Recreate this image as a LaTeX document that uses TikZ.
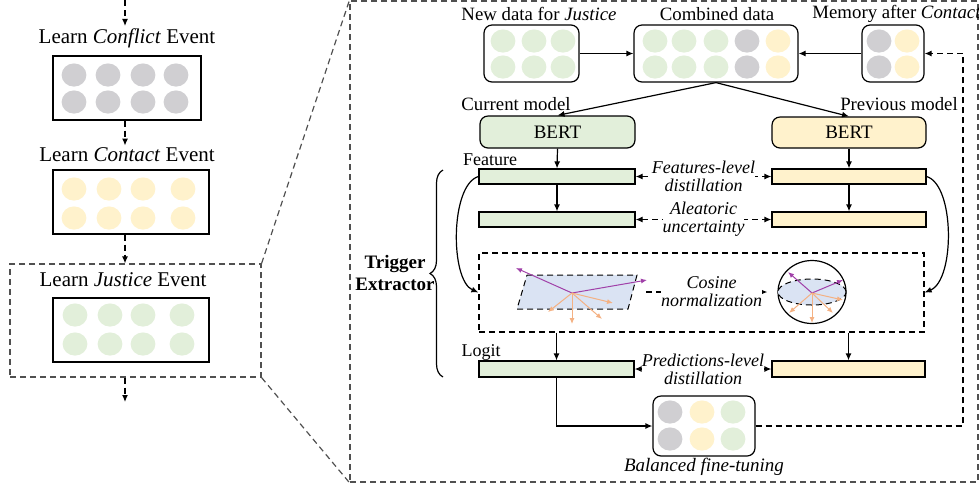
\documentclass[tikz,border=0pt]{standalone}
\usepackage{fontspec}
\setmainfont{Liberation Serif}
\usepackage{tikz}
\usetikzlibrary{arrows.meta, shapes.geometric, decorations.pathreplacing}

\definecolor{gris}{RGB}{208,207,210}
\definecolor{amarillo}{RGB}{255,242,204}
\definecolor{verde}{RGB}{226,239,218}
\definecolor{azul}{RGB}{218,227,243}
\definecolor{morado}{RGB}{160,64,168}
\definecolor{naranja}{RGB}{244,177,131}
\definecolor{marcogris}{RGB}{80,80,80}

\begin{document}
\begin{tikzpicture}[x=0.5pt, y=-0.5pt,
    >={Latex[length=3.5pt, width=3pt]},
    caja/.style={draw, line width=0.6pt, inner sep=0pt},
    redondo/.style={caja, rounded corners=4pt},
    barra/.style={caja, minimum height=7.5pt},
    marco/.style={draw=marcogris, line width=0.6pt, dash pattern=on 3pt off 2pt},
    marcon/.style={draw=black, line width=0.6pt, dash pattern=on 3pt off 2pt},
    flecha/.style={->, line width=0.6pt},
    flechad/.style={->, line width=0.6pt, dash pattern=on 3pt off 2pt},
    vec/.style={-{Latex[length=3pt, width=2.5pt]}, line width=0.5pt},
    paso/.style={font=\fontsize{10.5}{12}\selectfont, inner sep=1pt},
    texto/.style={font=\fontsize{9.4}{11}\selectfont, inner sep=1pt},
    chico/.style={font=\fontsize{9}{10}\selectfont, inner sep=1pt},
    nota/.style={font=\fontsize{9}{9}\selectfont\itshape, align=center, fill=white, inner sep=0pt}]
    \useasboundingbox (0,0) rectangle (979,484);

    % Secuencia de eventos
    \coordinate (ini) at (125,0);
    \coordinate (fin) at (125,402);
    \node[paso] (tconf) at (127,38) {Learn \textit{Conflict} Event};
    \node[caja, minimum width=74pt, minimum height=32pt] (conf) at (127,88) {};
    \foreach \x in {74,108,143,176}
        \foreach \y in {75,102}
            \fill[gris] (\x,\y) ellipse (6.2pt and 5.8pt);
    \node[paso] (tcont) at (127,155) {Learn \textit{Contact} Event};
    \node[caja, minimum width=78pt, minimum height=32pt] (cont) at (131,202) {};
    \foreach \x in {74,109,143,183}
        \foreach \y in {189,218}
            \fill[amarillo] (\x,\y) ellipse (6.2pt and 5.8pt);
    \node[marco, minimum width=125.5pt, minimum height=56.5pt] (justicia) at (135.5,320.5) {};
    \node[paso] (tjust) at (123,280) {Learn \textit{Justice} Event};
    \node[caja, minimum width=78pt, minimum height=32pt] (just) at (131,330) {};
    \foreach \x in {75,110,143,182}
        \foreach \y in {315,344}
            \fill[verde] (\x,\y) ellipse (6.2pt and 5.8pt);

    \draw[flechad] (ini) -- (tconf.north -| ini);
    \draw[flechad] (conf.south -| ini) -- (tcont.north -| ini);
    \draw[flechad] (cont.south -| ini) -- (justicia.north -| ini);
    \draw[flechad] (justicia.south -| ini) -- (fin);

    % Detalle
    \node[marco, minimum width=314pt, minimum height=240.5pt] (detalle) at (664,241.5) {};
    \draw[marco] (justicia.north east) -- (detalle.north west);
    \draw[marco] (justicia.south east) -- (detalle.south west);

    % Datos
    \node[texto] (tnuevo) at (539,14) {New data for \textit{Justice}};
    \node[redondo, minimum width=47.5pt, minimum height=28.5pt] (nuevo) at (531.5,53.5) {};
    \foreach \x in {503,534,563}
        \foreach \y in {41,67}
            \fill[verde] (\x,\y) ellipse (6.2pt and 5.8pt);
    \node[texto] (tcomb) at (717,14) {Combined data};
    \node[redondo, minimum width=82pt, minimum height=28.5pt] (comb) at (716,53.5) {};
    \foreach \x/\c in {655/verde,684/verde,716/verde,747/gris,778/amarillo}
        \foreach \y in {41,67}
            \fill[\c] (\x,\y) ellipse (6.2pt and 5.8pt);
    \node[texto, anchor=west] (tmem) at (810,14) {Memory after \textit{Contact}};
    \node[redondo, minimum width=31pt, minimum height=28.5pt] (mem) at (893,53.5) {};
    \foreach \x/\c in {879/gris,907/amarillo}
        \foreach \y in {41,67}
            \fill[\c] (\x,\y) ellipse (6.2pt and 5.8pt);
    \draw[flecha] (nuevo) -- (comb);
    \draw[flecha] (mem) -- (comb);

    % Modelos
    \node[texto] (tactual) at (516,104) {Current model};
    \node[redondo, fill=verde, minimum width=77.5pt, minimum height=16pt, font=\fontsize{9.5}{11}\selectfont] (bertA) at (557.5,132) {BERT};
    \node[texto] (tprevio) at (899,104) {Previous model};
    \node[redondo, fill=amarillo, minimum width=77pt, minimum height=15.5pt, font=\fontsize{9.5}{11}\selectfont] (bertB) at (849,132.5) {BERT};
    \draw[flecha] (comb.south) -- (bertA.north);
    \draw[flecha] (comb.south) -- (bertB.north);

    % Rasgos
    \node[chico] (tfeat) at (490,160) {Feature};
    \node[barra, fill=verde, minimum width=78pt] (featA) at (557,176.5) {};
    \node[barra, fill=verde, minimum width=78pt] (aleA) at (557,219.5) {};
    \node[barra, fill=amarillo, minimum width=77pt] (featB) at (849,176.5) {};
    \node[barra, fill=amarillo, minimum width=77pt] (aleB) at (849,219.5) {};
    \draw[flecha] (bertA.south) -- (featA.north);
    \draw[flecha] (featA.south) -- (aleA.north);
    \draw[flecha] (bertB.south) -- (featB.north);
    \draw[flecha] (featB.south) -- (aleB.north);
    \draw[flechad, <->] (featA.east) -- (featB.west) node[nota, midway] {Features-level\\distillation};
    \draw[flechad, <->] (aleA.east) -- (aleB.west) node[nota, midway] {Aleatoric\\uncertainty};

    % Normalizacion coseno
    \node[marcon, minimum width=222.5pt, minimum height=39.5pt] (coseno) at (701.5,292.5) {};
    \draw[dash pattern=on 3pt off 2pt, line width=0.5pt, fill=azul] (527,275) -- (637,275) -- (628,309) -- (517,309) -- cycle;
    \foreach \x/\y in {516/268,647/280}
        \draw[vec, morado] (572,293) -- (\x,\y);
    \foreach \x/\y in {548/312,572/324,602/319,613/303}
        \draw[vec, naranja] (572,293) -- (\x,\y);
    \node[draw, ellipse, line width=0.6pt, minimum width=34pt, minimum height=31.5pt, inner sep=0pt] (esfera) at (812,292) {};
    \draw[dash pattern=on 3pt off 2pt, line width=0.5pt, fill=azul] (812,292) ellipse (17pt and 6.5pt);
    \foreach \x/\y in {788/272,843/280}
        \draw[vec, morado] (812,293) -- (\x,\y);
    \foreach \x/\y in {789/313,812/323,833/313,843/300}
        \draw[vec, naranja] (812,293) -- (\x,\y);
    \coordinate (plano) at (646,292);
    \draw[flechad, shorten >=5pt] (plano) -- (esfera.west) node[nota, midway] {Cosine\\normalization};
    \draw[flecha] (featA.west) .. controls (450,185) and (450,280) .. (coseno.west);
    \draw[flecha] (featB.east) .. controls (955,185) and (955,280) .. (coseno.east);

    % Logits
    \node[chico] (tlogit) at (481,352) {Logit};
    \node[barra, fill=verde, minimum width=77.5pt, minimum height=8pt] (logitA) at (556.5,369) {};
    \node[barra, fill=amarillo, minimum width=76.5pt, minimum height=8pt] (logitB) at (848.5,369) {};
    \draw[flecha] (coseno.south -| logitA) -- (logitA.north);
    \draw[flecha] (coseno.south -| logitB) -- (logitB.north);
    \draw[flechad, <->] (logitA.east) -- (logitB.west) node[nota, midway] {Predictions-level\\distillation};

    % Ajuste balanceado
    \node[redondo, minimum width=51pt, minimum height=30pt] (bal) at (704,426) {};
    \foreach \x/\c in {670/gris,702/amarillo,733/verde}
        \foreach \y in {412,439}
            \fill[\c] (\x,\y) ellipse (6.2pt and 5.8pt);
    \node[font=\fontsize{9.5}{11}\selectfont\itshape, inner sep=1pt] (tbal) at (704,467) {Balanced fine-tuning};
    \draw[flecha] (logitA.south) |- (bal.west);
    \coordinate (retorno) at (963,200);
    \draw[flechad] (bal.east) -| (retorno) |- (mem.east);

    % Extractor
    \draw[decorate, decoration={brace, amplitude=6.5pt}, line width=0.6pt] (443,377) -- (443,170);
    \node[font=\fontsize{9.5}{11}\selectfont\bfseries, align=center, inner sep=1pt] (trigger) at (395,273) {Trigger\\Extractor};
\end{tikzpicture}
\end{document}
